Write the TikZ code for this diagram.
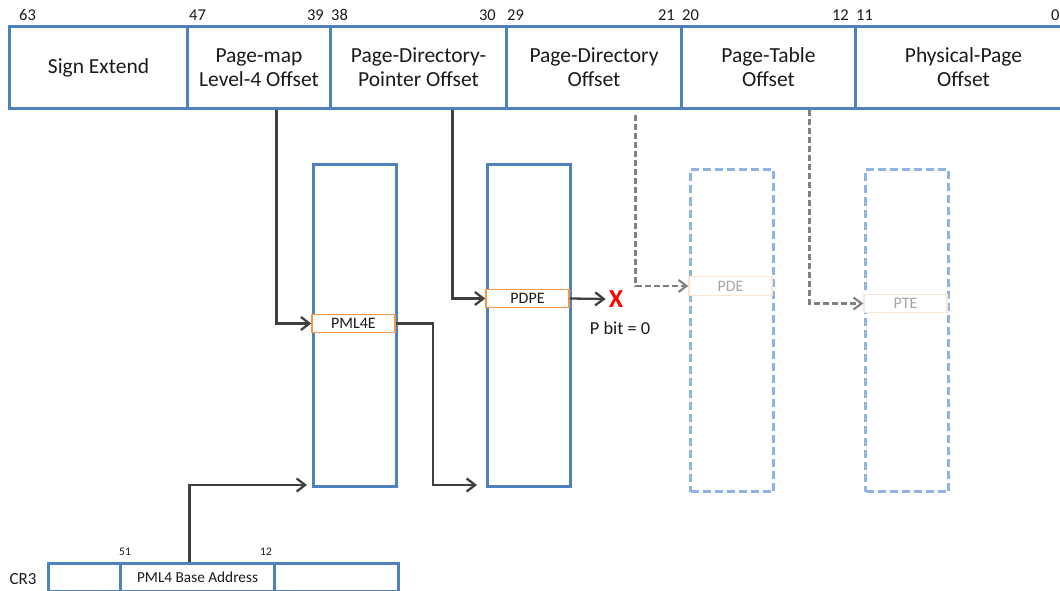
\documentclass[tikz,border=0pt]{standalone}
\usepackage{fontspec}
\setmainfont{Carlito}
\usetikzlibrary{arrows.meta}
\definecolor{regblue}{HTML}{4F81BD}
\definecolor{paleblue}{HTML}{8EB4E3}
\definecolor{entryorange}{HTML}{F79646}
\definecolor{paleorange}{HTML}{FCE4D6}
\definecolor{arrowgray}{HTML}{404040}
\definecolor{dashgray}{HTML}{808080}
\definecolor{fadetext}{HTML}{A6A6A6}
\definecolor{textdark}{HTML}{1A1A1A}

\begin{document}
\begin{tikzpicture}[x=1pt,y=-1pt,
  field/.style={draw=regblue, line width=3pt, anchor=north west, inner sep=0pt,
    minimum height=82pt, align=center, text=textdark,
    font=\fontsize{21.5}{24}\selectfont},
  bitno/.style={inner sep=0pt, text=textdark, font=\fontsize{16.5}{18}\selectfont},
  tablebox/.style={draw=regblue, line width=3pt, anchor=north west, inner sep=0pt,
    minimum width=83pt, minimum height=322pt},
  ghostbox/.style={draw=paleblue, line width=3pt, dash pattern=on 8pt off 4pt,
    anchor=north west, inner sep=0pt, minimum width=83pt, minimum height=322pt},
  entry/.style={draw=entryorange, line width=1.4pt, fill=white, inner sep=0pt,
    minimum width=83pt, minimum height=18.5pt, text=textdark,
    font=\fontsize{16}{17}\selectfont},
  ghostentry/.style={entry, draw=paleorange, text=fadetext},
  regpart/.style={draw=regblue, line width=3pt, anchor=north west, inner sep=0pt,
    minimum height=28pt, text=textdark, font=\fontsize{15.3}{17}\selectfont},
  conn/.style={draw=arrowgray, line width=2.3pt,
    -{Straight Barb[length=8.5pt, width=13pt, line width=2.3pt]}},
  ghostconn/.style={draw=dashgray, line width=2.1pt, dash pattern=on 6pt off 3pt,
    -{Straight Barb[length=8pt, width=12pt, line width=2.1pt]}},
]
\useasboundingbox (0,0) rectangle (1060,591);

% 64-bit linear address fields
\node[field, minimum width=178pt] (f1) at (8,25) {Sign Extend};
\node[field, minimum width=143pt] (f2) at (186,25) {Page-map\\Level-4 Offset};
\node[field, minimum width=176pt] (f3) at (329,25) {Page-Directory-\\Pointer Offset};
\node[field, minimum width=175pt] (f4) at (505,25) {Page-Directory\\Offset};
\node[field, minimum width=174pt] (f5) at (680,25) {Page-Table\\Offset};
\node[field, minimum width=216pt] (f6) at (854,25) {Physical-Page\\Offset};

% bit positions
\node[bitno, anchor=base west] (b63) at (19,21) {63};
\node[bitno, anchor=base west] (b47) at (189,21) {47};
\node[bitno, anchor=base east] (b39) at (324,21) {39};
\node[bitno, anchor=base west] (b38) at (331,21) {38};
\node[bitno, anchor=base east] (b30) at (496,21) {30};
\node[bitno, anchor=base west] (b29) at (507,21) {29};
\node[bitno, anchor=base east] (b21) at (675,21) {21};
\node[bitno, anchor=base west] (b20) at (682,21) {20};
\node[bitno, anchor=base east] (b12) at (849,21) {12};
\node[bitno, anchor=base west] (b11) at (856,21) {11};
\node[bitno, anchor=base west] (b0) at (1051,21) {0};

% paging structures
\node[tablebox] (pml4) at (312,163) {};
\node[tablebox] (pdpt) at (486,163) {};
\node[ghostbox] (pd) at (689,168) {};
\node[ghostbox] (pt) at (864,168) {};

% selected entries
\node[entry] (pml4e) at (353.5,323.5) {PML4E};
\node[entry] (pdpe) at (527.5,298.5) {PDPE};
\node[ghostentry] (pde) at (730.5,286) {PDE};
\node[ghostentry] (pte) at (905.5,303.5) {PTE};

% CR3 register
\node[regpart, minimum width=72pt] (c1) at (47,562) {};
\node[regpart, minimum width=154pt] (c2) at (119,562) {PML4 Base Address};
\node[regpart, minimum width=124pt] (c3) at (273,562) {};
\node[bitno, font=\fontsize{17}{18}\selectfont] (cr3) at (23,579) {CR3};
\node[bitno, font=\fontsize{11.5}{12}\selectfont] (c51) at (125,552) {51};
\node[bitno, font=\fontsize{11.5}{12}\selectfont] (c12) at (266,552) {12};

% not-present marker
\node[inner sep=0pt, text=red, font=\fontsize{26}{27}\selectfont\bfseries] (xmark) at (616,299) {X};
\node[bitno, font=\fontsize{18.3}{20}\selectfont] (pbit) at (620,328) {P bit = 0};

% connectors
\coordinate (pml4in) at ([xshift=-5pt,yshift=3pt]pml4.south west);
\coordinate (pdptin) at ([xshift=-9pt,yshift=3pt]pdpt.south west);
\draw[conn] ([xshift=-8pt]c2.north) |- (pml4in);
\draw[conn] ([xshift=17.5pt]f2.south) |- (pml4e.west);
\draw[conn] (pml4e.east) -- ++(37,0) |- (pdptin);
\draw[conn] ([xshift=34pt]f3.south) |- (pdpe.west);
\draw[conn] (pdpe.east) -- ([xshift=-3pt]xmark.west);
\draw[ghostconn] ([xshift=41.5pt,yshift=-5pt]f4.south) |- (pde.west);
\draw[ghostconn] ([xshift=41pt]f5.south) |- (pte.west);
\end{tikzpicture}
\end{document}
